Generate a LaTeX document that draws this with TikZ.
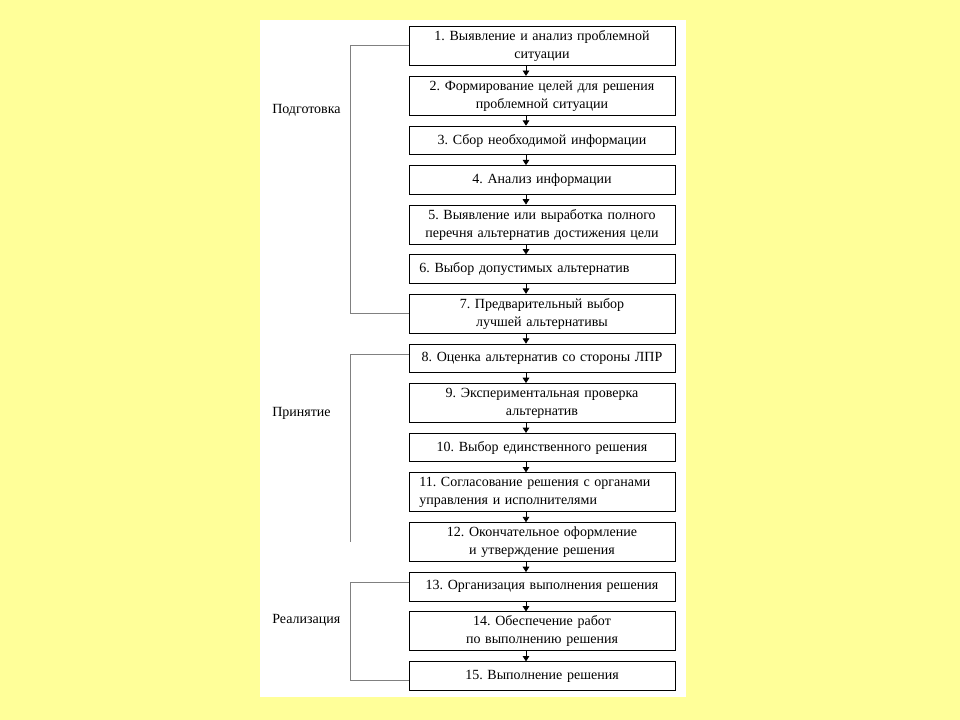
\documentclass[tikz,border=0pt]{standalone}
\usepackage{fontspec}
\setmainfont{Liberation Serif}
\usetikzlibrary{arrows.meta, positioning}
\definecolor{paleyellow}{HTML}{FFFF99}
\definecolor{bracketgray}{HTML}{808080}
\frenchspacing

\begin{document}
\begin{tikzpicture}[
    x=0.75pt, y=-0.75pt,
    node distance=7.4pt,
    box/.style={
        rectangle, draw=black, line width=0.75pt, fill=white,
        text width=192pt, minimum height=21.4pt, inner xsep=3.75pt, inner ysep=2pt,
        font=\fontsize{10.5}{13.5}\selectfont, align=center
    },
    tall/.style={minimum height=29.25pt},
    phase/.style={font=\fontsize{10.5}{13.5}\selectfont, inner sep=0pt, anchor=west},
    flow/.style={-{Triangle[length=4pt, width=5pt]}, line width=0.6pt, black},
    bracket/.style={line width=0.75pt, bracketgray},
]

% Page and panel
\fill[paleyellow] (0,0) rectangle (960,720);
\fill[white] (260,20) rectangle (686,697);
\useasboundingbox (0,0) rectangle (960,720);

% Helper x positions
\coordinate (ax) at (526,0);
\coordinate (bx) at (350,0);

% Nodes
\node[box, tall] (b1) at (542,46) {1. Выявление и анализ проблемной\\ситуации};
\node[box, tall, below=of b1] (b2) {2. Формирование целей для решения\\проблемной ситуации};
\node[box, below=of b2] (b3) {3. Сбор необходимой информации};
\node[box, below=of b3] (b4) {4. Анализ информации};
\node[box, tall, below=of b4] (b5) {5. Выявление или выработка полного\\перечня альтернатив достижения цели};
\node[box, align=left, below=of b5] (b6) {\hspace{4pt}6. Выбор допустимых альтернатив};
\node[box, tall, below=of b6] (b7) {7. Предварительный выбор\\лучшей альтернативы};
\node[box, below=of b7] (b8) {8. Оценка альтернатив со стороны ЛПР};
\node[box, tall, below=of b8] (b9) {9. Экспериментальная проверка\\альтернатив};
\node[box, below=of b9] (b10) {10. Выбор единственного решения};
\node[box, tall, align=left, below=of b10] (b11) {\hspace{4pt}11. Согласование решения с органами\\\hspace*{4pt}управления и исполнителями};
\node[box, tall, below=of b11] (b12) {12. Окончательное оформление\\и утверждение решения};
\node[box, below=of b12] (b13) {13. Организация выполнения решения};
\node[box, tall, below=of b13] (b14) {14. Обеспечение работ\\по выполнению решения};
\node[box, below=of b14] (b15) {15. Выполнение решения};

% Phase labels
\node[phase] (prep) at (272,110) {Подготовка};
\node[phase] (adopt) at (272,413) {Принятие};
\node[phase] (impl) at (272,620) {Реализация};

% Arrows between steps
\foreach \a/\b in {b1/b2, b2/b3, b3/b4, b4/b5, b5/b6, b6/b7, b7/b8,
                   b8/b9, b9/b10, b10/b11, b11/b12, b12/b13, b13/b14, b14/b15}
    \draw[flow] (\a.south -| ax) -- (\b.north -| ax);

% Brackets
\draw[bracket] (b1.west) -- (b1.west -| bx) -- (b7.west -| bx) -- (b7.west);
\draw[bracket] ([yshift=3pt]b8.west) -- ([yshift=3pt]b8.west -| bx) -- (b12.west -| bx);
\draw[bracket] ([yshift=3pt]b13.west) -- ([yshift=3pt]b13.west -| bx)
    -- ([yshift=-3pt]b15.west -| bx) -- ([yshift=-3pt]b15.west);

\end{tikzpicture}
\end{document}
